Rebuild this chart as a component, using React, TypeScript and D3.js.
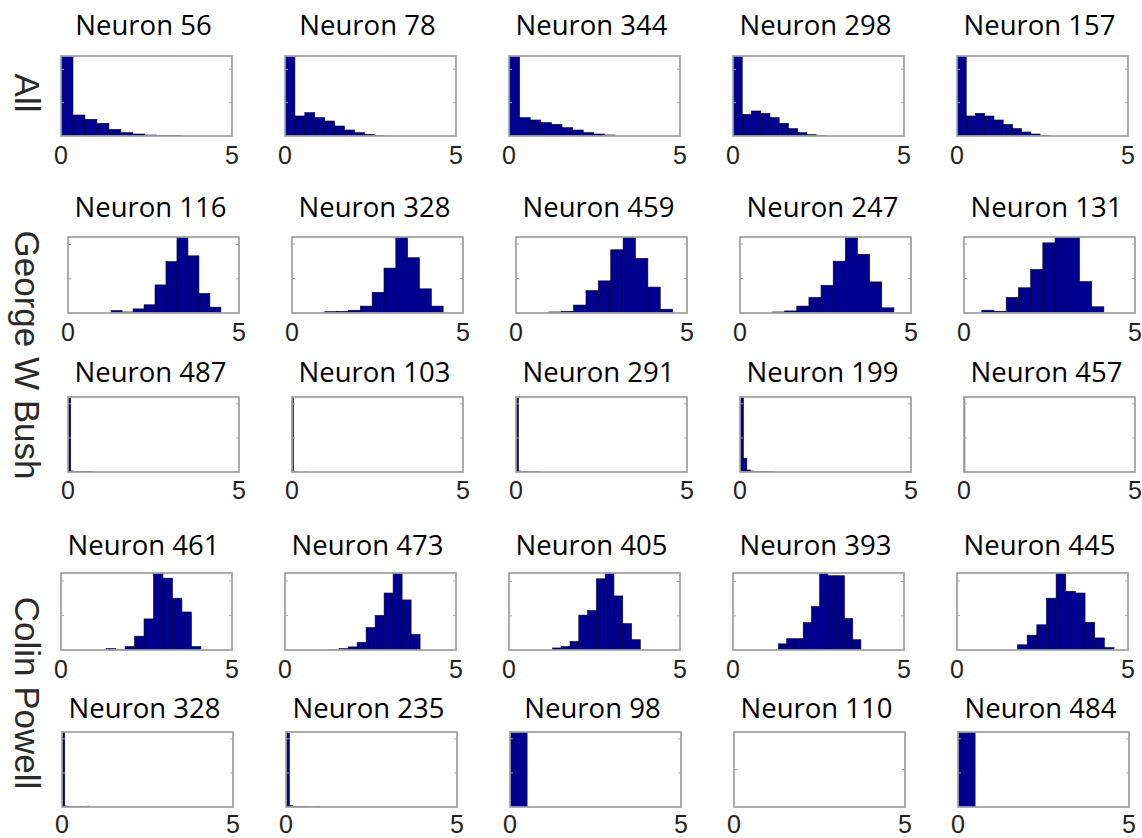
import React from "react";
import * as d3 from "d3";

// ---- data: per-row histograms (bin range [lo, hi] split into equal bins) ----
const rowLabels = ["All", "George W Bush", "Colin Powell"];

const allTitles = ["Neuron 56", "Neuron 78", "Neuron 344", "Neuron 298", "Neuron 157"];
const allRanges: [number, number][] = [[0, 3.5], [0, 2.9], [0, 3.1], [0, 2.7], [0, 2.7]];
const allCounts: number[][] = [
  [240, 63, 50, 38, 20, 10, 6, 3, 2, 2],
  [240, 60, 70, 55, 45, 30, 18, 10, 5, 2],
  [240, 55, 48, 40, 35, 25, 18, 10, 6, 3],
  [240, 65, 75, 68, 55, 38, 22, 10, 4, 2],
  [240, 60, 68, 60, 48, 35, 22, 12, 6, 2],
];

const bushHighTitles = ["Neuron 116", "Neuron 328", "Neuron 459", "Neuron 247", "Neuron 131"];
const bushHighRanges: [number, number][] = [[1.26, 4.47], [0.96, 4.42], [0.96, 4.58], [0.95, 4.5], [0.52, 4.09]];
const bushHighCounts: number[][] = [
  [7, 3, 12, 24, 82, 150, 222, 167, 57, 17],
  [4, 5, 8, 20, 60, 130, 220, 160, 70, 20],
  [3, 5, 23, 65, 93, 183, 220, 158, 75, 11],
  [3, 6, 20, 45, 80, 150, 220, 170, 90, 15],
  [8, 5, 45, 73, 126, 203, 220, 220, 91, 18],
];

const bushLowTitles = ["Neuron 487", "Neuron 103", "Neuron 291", "Neuron 199", "Neuron 457"];
const bushLowRanges: [number, number][] = [[0, 0.8], [0, 0.4], [0, 0.7], [0, 1.0], [0, 0.25]];
const bushLowCounts: number[][] = [
  [220, 3, 2, 1, 1, 1, 1, 1, 1, 0.5],
  [220, 1, 0.5, 0.5, 0, 0, 0, 0, 0, 0.5],
  [220, 3, 2, 1, 1, 1, 0.5, 0.5, 0.5, 0.5],
  [220, 40, 6, 3, 2, 1, 1, 1, 0.5, 0.5],
  [220, 0.5, 0, 0, 0, 0, 0, 0, 0, 0.5],
];

const powellHighTitles = ["Neuron 461", "Neuron 473", "Neuron 405", "Neuron 393", "Neuron 445"];
const powellHighRanges: [number, number][] = [[1.32, 4.09], [1.32, 3.95], [1.27, 3.84], [1.33, 3.74], [1.77, 4.59]];
const powellHighCounts: number[][] = [
  [4, 2, 10, 40, 90, 223, 208, 150, 110, 10],
  [2, 4, 9, 22, 65, 100, 165, 223, 145, 45],
  [6, 10, 25, 102, 115, 208, 225, 158, 77, 30],
  [18, 33, 33, 80, 127, 225, 217, 217, 92, 30],
  [15, 43, 73, 150, 223, 170, 165, 80, 35, 7],
];

const powellLowTitles = ["Neuron 328", "Neuron 235", "Neuron 98", "Neuron 110", "Neuron 484"];
const powellLowRanges: [number, number][] = [[0, 0.8], [0, 1.0], [-0.5, 0.5], [0, 0.2], [-0.5, 0.5]];
const powellLowCounts: number[][] = [
  [220, 3, 1.5, 1.5, 1, 1, 1, 1, 1.5, 2.5],
  [220, 4, 2, 1, 1, 1, 0.5, 0.5, 0.5, 1],
  [220],
  [],
  [220],
];

const rows = [
  { titles: allTitles, ranges: allRanges, counts: allCounts },
  { titles: bushHighTitles, ranges: bushHighRanges, counts: bushHighCounts },
  { titles: bushLowTitles, ranges: bushLowRanges, counts: bushLowCounts },
  { titles: powellHighTitles, ranges: powellHighRanges, counts: powellHighCounts },
  { titles: powellLowTitles, ranges: powellLowRanges, counts: powellLowCounts },
];

const xTicks = [0, 5];

// ---- layout ----
const W = 1142;
const H = 838;
const PANEL_W = 171;
const COL_STEP = 224;
const rowBoxes = [
  { left: 61, top: 56, h: 80, titleY: 35, tickY: 164 },
  { left: 68, top: 237, h: 76, titleY: 217, tickY: 341 },
  { left: 68, top: 397, h: 75, titleY: 382, tickY: 499 },
  { left: 61, top: 573, h: 77, titleY: 555, tickY: 678 },
  { left: 62, top: 732, h: 75, titleY: 718, tickY: 833 },
];
const rowLabelCenters = [93, 355, 693];

const BAR_FILL = "#00008f";
const BAR_EDGE = "#00002a";
const BOX = "#a4a4a4";

type PanelProps = {
  id: string;
  title: string;
  range: [number, number];
  counts: number[];
  left: number;
  top: number;
  h: number;
  titleY: number;
  tickY: number;
};

function Panel({ id, title, range, counts, left, top, h, titleY, tickY }: PanelProps) {
  const x = d3.scaleLinear().domain([0, 5]).range([0, PANEL_W]);
  const maxC = d3.max(counts) ?? 1;
  const y = d3.scaleLinear().domain([0, maxC]).range([h, 0]);
  const bw = counts.length ? (range[1] - range[0]) / counts.length : 0;
  const yTicks = y.ticks(3).filter((t) => t > 0 && t < maxC);
  return (
    <g>
      <text
        x={left + PANEL_W / 2 - 3}
        y={titleY}
        textAnchor="middle"
        fontFamily="'Open Sans', sans-serif"
        fontSize={27.5}
        fill="#000"
      >
        {title}
      </text>
      <g transform={`translate(${left},${top})`}>
        <clipPath id={id}>
          <rect x={0} y={0} width={PANEL_W} height={h} />
        </clipPath>
        <rect x={0} y={0} width={PANEL_W} height={h} fill="#fff" />
        <g clipPath={`url(#${id})`}>
          {counts.map((c, i) => {
            const x0 = x(range[0] + i * bw);
            const x1 = x(range[0] + (i + 1) * bw);
            return c > 0 ? (
              <rect
                key={i}
                x={x0}
                y={y(c)}
                width={Math.max(0, x1 - x0)}
                height={h - y(c)}
                fill={BAR_FILL}
                stroke={BAR_EDGE}
                strokeWidth={0.6}
              />
            ) : null;
          })}
        </g>
        {yTicks.map((t) => (
          <g key={t}>
            <line x1={0} x2={3} y1={y(t)} y2={y(t)} stroke={BOX} strokeWidth={1} />
            <line x1={PANEL_W - 3} x2={PANEL_W} y1={y(t)} y2={y(t)} stroke={BOX} strokeWidth={1} />
          </g>
        ))}
        <rect x={0} y={0} width={PANEL_W} height={h} fill="none" stroke={BOX} strokeWidth={1.8} />
      </g>
      {xTicks.map((t) => (
        <text
          key={t}
          x={left + x(t)}
          y={tickY}
          textAnchor="middle"
          fontFamily="'Liberation Sans', Arial, sans-serif"
          fontSize={25}
          fill="#222"
        >
          {t}
        </text>
      ))}
    </g>
  );
}

export default function App() {
  return (
    <svg
      width={W}
      height={H}
      viewBox={`0 0 ${W} ${H}`}
      style={{ position: "absolute", left: 0, top: 0, background: "#fff" }}
    >
      <rect x={0} y={0} width={W} height={H} fill="#fff" />
      {rowLabels.map((lab, i) => (
        <text
          key={lab}
          transform={`translate(15,${rowLabelCenters[i]}) rotate(90)`}
          textAnchor="middle"
          fontFamily="'Liberation Sans', Arial, sans-serif"
          fontSize={35}
          fill="#2a2a2a"
        >
          {lab}
        </text>
      ))}
      {rows.map((row, r) =>
        row.titles.map((title, c) => (
          <Panel
            key={`${r}-${c}`}
            id={`clip-${r}-${c}`}
            title={title}
            range={row.ranges[c]}
            counts={row.counts[c]}
            left={rowBoxes[r].left + c * COL_STEP}
            top={rowBoxes[r].top}
            h={rowBoxes[r].h}
            titleY={rowBoxes[r].titleY}
            tickY={rowBoxes[r].tickY}
          />
        ))
      )}
    </svg>
  );
}
